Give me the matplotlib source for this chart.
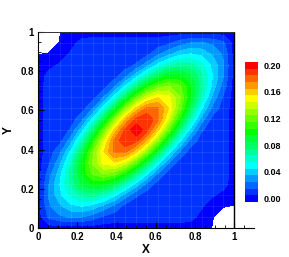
import numpy as np
import matplotlib
matplotlib.use('Agg')
import matplotlib.pyplot as plt

plt.rcParams['font.family'] = ['Liberation Sans', 'DejaVu Sans']
plt.rcParams['font.weight'] = 'bold'

# 19 x 19 mesh nodes (same for x and y)
mesh = np.linspace(0, 1, 19)

# nodal values, row j -> y = mesh[j], column i -> x = mesh[i]
field = [
    [0, 0, 0, 0, 0, 0, 0, 0, 0, 0, 0, 0, 0, 0, 0, 0, -0.0055, -0.015, -0.03],
    [0, 0.017, 0.023, 0.026, 0.025, 0.020, 0.013, 0.010, 0.010, 0.010, 0.010, 0.010, 0.010, 0.010, 0.008, 0.002, -0.0045, -0.010, -0.015],
    [0, 0.023, 0.033, 0.042, 0.045, 0.041, 0.032, 0.022, 0.0115, 0.010, 0.010, 0.010, 0.010, 0.010, 0.010, 0.006, 0.0, -0.0045, -0.0055],
    [0, 0.026, 0.042, 0.057, 0.067, 0.069, 0.061, 0.047, 0.030, 0.016, 0.010, 0.010, 0.010, 0.010, 0.010, 0.010, 0.006, 0.002, 0],
    [0, 0.025, 0.045, 0.067, 0.086, 0.096, 0.095, 0.082, 0.062, 0.040, 0.021, 0.010, 0.010, 0.010, 0.010, 0.010, 0.010, 0.008, 0],
    [0, 0.020, 0.041, 0.069, 0.096, 0.117, 0.126, 0.120, 0.101, 0.075, 0.047, 0.024, 0.010, 0.010, 0.010, 0.010, 0.010, 0.010, 0],
    [0, 0.013, 0.032, 0.061, 0.095, 0.126, 0.148, 0.154, 0.142, 0.116, 0.083, 0.050, 0.025, 0.010, 0.010, 0.010, 0.010, 0.010, 0],
    [0, 0.010, 0.022, 0.047, 0.082, 0.120, 0.154, 0.177, 0.178, 0.157, 0.124, 0.086, 0.050, 0.024, 0.010, 0.010, 0.010, 0.010, 0],
    [0, 0.010, 0.0115, 0.030, 0.062, 0.101, 0.142, 0.178, 0.193, 0.1875, 0.1625, 0.124, 0.083, 0.047, 0.021, 0.010, 0.010, 0.010, 0],
    [0, 0.010, 0.010, 0.016, 0.040, 0.075, 0.116, 0.157, 0.1875, 0.2045, 0.1875, 0.157, 0.116, 0.075, 0.040, 0.016, 0.010, 0.010, 0],
    [0, 0.010, 0.010, 0.010, 0.021, 0.047, 0.083, 0.124, 0.1625, 0.1875, 0.193, 0.178, 0.142, 0.101, 0.062, 0.030, 0.0115, 0.010, 0],
    [0, 0.010, 0.010, 0.010, 0.010, 0.024, 0.050, 0.086, 0.124, 0.157, 0.178, 0.177, 0.154, 0.120, 0.082, 0.047, 0.022, 0.010, 0],
    [0, 0.010, 0.010, 0.010, 0.010, 0.010, 0.025, 0.050, 0.083, 0.116, 0.142, 0.154, 0.148, 0.126, 0.095, 0.061, 0.032, 0.013, 0],
    [0, 0.010, 0.010, 0.010, 0.010, 0.010, 0.010, 0.024, 0.047, 0.075, 0.101, 0.120, 0.126, 0.117, 0.096, 0.069, 0.041, 0.020, 0],
    [0, 0.008, 0.010, 0.010, 0.010, 0.010, 0.010, 0.010, 0.021, 0.040, 0.062, 0.082, 0.095, 0.096, 0.086, 0.067, 0.045, 0.025, 0],
    [0, 0.002, 0.006, 0.010, 0.010, 0.010, 0.010, 0.010, 0.010, 0.016, 0.030, 0.047, 0.061, 0.069, 0.067, 0.057, 0.042, 0.026, 0],
    [-0.0055, -0.0045, 0.0, 0.006, 0.010, 0.010, 0.010, 0.010, 0.010, 0.010, 0.0115, 0.022, 0.032, 0.041, 0.045, 0.042, 0.033, 0.023, 0],
    [-0.015, -0.010, -0.0045, 0.002, 0.008, 0.010, 0.010, 0.010, 0.010, 0.010, 0.010, 0.010, 0.013, 0.020, 0.025, 0.026, 0.023, 0.017, 0],
    [-0.03, -0.015, -0.0055, 0, 0, 0, 0, 0, 0, 0, 0, 0, 0, 0, 0, 0, 0, 0, 0],
]

levels = np.round(np.arange(-0.005, 0.2051, 0.01), 3)
cbar_ticks = [0.00, 0.04, 0.08, 0.12, 0.16, 0.20]
major = [0, 0.2, 0.4, 0.6, 0.8, 1.0]
major_labels = ['0', '0.2', '0.4', '0.6', '0.8', '1']

# rainbow: blue -> cyan -> green -> yellow -> red
n_bands = len(levels) - 1
frac = np.linspace(0, 1, n_bands)
anchors = [0, 0.25, 0.5, 0.75, 1.0]
r = np.interp(frac, anchors, [0, 0, 0, 1, 1])
g = np.interp(frac, anchors, [0, 1, 1, 1, 0])
b = np.interp(frac, anchors, [1, 1, 0, 0, 0])
band_colors = list(zip(r, g, b))

fig = plt.figure(figsize=(2.89, 2.57), dpi=100)
ax = fig.add_axes([0.1315, 0.1128, 0.7474, 0.7626])

X, Y = np.meshgrid(mesh, mesh)
cs = ax.contourf(X, Y, np.array(field), levels=levels, colors=band_colors)

# faint mesh lines
for m in mesh[1:-1]:
    ax.plot([m, m], [0, 1], color='white', alpha=0.13, lw=0.5)
    ax.plot([0, 1], [m, m], color='white', alpha=0.13, lw=0.5)

# frame at x=1 and y=1
ax.plot([1, 1], [0, 1], color='black', lw=1.0)
ax.plot([0, 1], [1, 1], color='#333333', lw=0.7)

ax.set_xlim(0, 1.1)
ax.set_ylim(0, 1)
ax.spines['right'].set_visible(False)
ax.spines['top'].set_visible(False)
ax.set_xticks(major)
ax.set_xticklabels(major_labels)
ax.set_xticks(np.arange(0, 1.06, 0.05), minor=True)
ax.set_yticks(major)
ax.set_yticklabels(major_labels)
ax.set_yticks(np.arange(0, 1.01, 0.05), minor=True)
ax.tick_params(which='major', direction='in', length=4, width=0.8, labelsize=7, pad=3)
ax.tick_params(which='minor', direction='in', length=2, width=0.6)
ax.set_xlabel('X', fontsize=8.5, fontweight='bold', labelpad=1)
ax.set_ylabel('Y', fontsize=8.5, fontweight='bold', labelpad=4)

cax = fig.add_axes([0.848, 0.214, 0.045, 0.545])
cbar = fig.colorbar(cs, cax=cax, ticks=cbar_ticks)
cbar.outline.set_visible(False)
cbar.ax.set_yticklabels(['%.2f' % t for t in cbar_ticks])
cax.tick_params(length=0, labelsize=6.5, pad=4)

plt.savefig('out.png', dpi=100)
